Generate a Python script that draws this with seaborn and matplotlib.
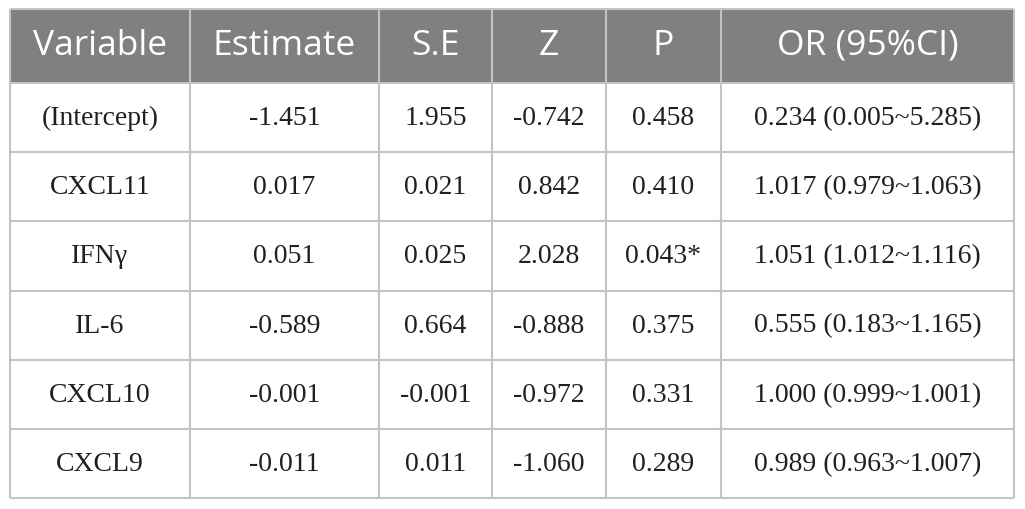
import matplotlib
matplotlib.use("Agg")
import matplotlib.pyplot as plt
import seaborn as sns

# table content
columns = ["Variable", "Estimate", "S.E", "Z", "P", "OR (95%CI)"]
variables = ["(Intercept)", "CXCL11", "IFNγ", "IL-6", "CXCL10", "CXCL9"]
estimate = ["-1.451", "0.017", "0.051", "-0.589", "-0.001", "-0.011"]
se = ["1.955", "0.021", "0.025", "0.664", "-0.001", "0.011"]
z = ["-0.742", "0.842", "2.028", "-0.888", "-0.972", "-1.060"]
p = ["0.458", "0.410", "0.043*", "0.375", "0.331", "0.289"]
or_ci = ["0.234 (0.005~5.285)", "1.017 (0.979~1.063)", "1.051 (1.012~1.116)",
         "0.555 (0.183~1.165)", "1.000 (0.999~1.001)", "0.989 (0.963~1.007)"]

# layout in pixels
col_edges = [10, 190, 379, 492, 606, 721, 1014]
top, header_bottom, bottom = 10, 84, 499
line_color = "#c3c3c3"
header_color = "#808080"

sns.set_theme(style="white")

fig = plt.figure(figsize=(10.25, 5.10), dpi=100)
ax = fig.add_axes([0, 0, 1, 1])
ax.set_xlim(0, 1025)
ax.set_ylim(510, 0)
ax.axis("off")

n_rows = len(variables)
row_h = (bottom - header_bottom) / n_rows
row_edges = [header_bottom + i * row_h for i in range(n_rows + 1)]

# header band
ax.fill_between([col_edges[0], col_edges[-1]], top, header_bottom,
                color=header_color, lw=0)

# grid lines
ax.vlines(col_edges, top, bottom, colors=line_color, lw=1.5)
ax.hlines([top] + row_edges, col_edges[0], col_edges[-1], colors=line_color, lw=1.5)

centers = [(a + b) / 2 for a, b in zip(col_edges[:-1], col_edges[1:])]
for cx, name in zip(centers, columns):
    ax.text(cx, (top + header_bottom) / 2 - 1, name, ha="center", va="center",
            color="white", fontsize=25.5, family="Open Sans")

table_rows = list(zip(variables, estimate, se, z, p, or_ci))
for i, row in enumerate(table_rows):
    cy = (row_edges[i] + row_edges[i + 1]) / 2
    for cx, val in zip(centers, row):
        ax.text(cx, cy, val, ha="center", va="center", color="#231f20",
                fontsize=20, family="Liberation Serif")

fig.savefig("out.png", dpi=100, facecolor="white")
